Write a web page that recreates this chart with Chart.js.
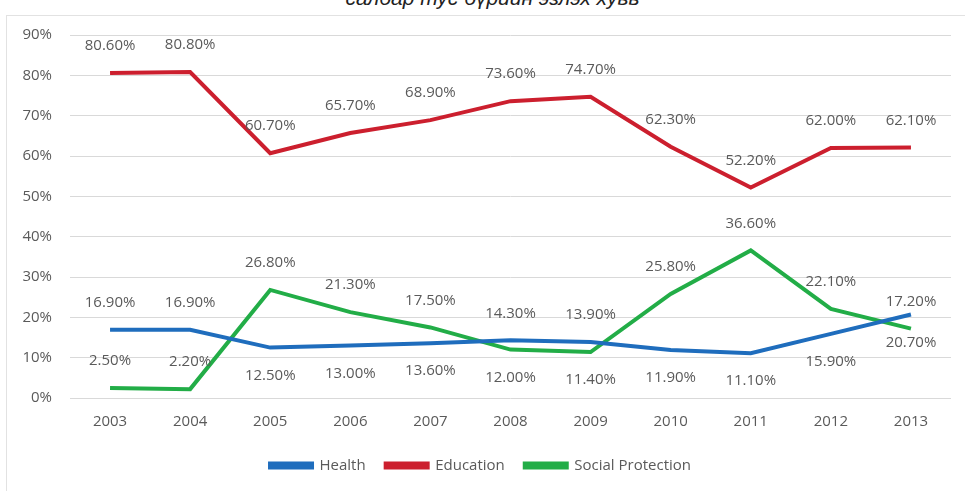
<!DOCTYPE html>
<html>
<head>
<meta charset="utf-8">
<script src="https://cdn.jsdelivr.net/npm/chart.js@4.4.0/dist/chart.umd.min.js"></script>
<style>
  html, body { margin: 0; padding: 0; background: #fff; }
  #wrap { position: relative; width: 965px; height: 491px; overflow: hidden; }
  #title {
    position: absolute; top: -14px; left: 0; width: 985px; text-align: center;
    font: italic 21px "Liberation Sans", Arial, sans-serif; color: #222;
  }
  #frame {
    position: absolute; left: 6px; top: 15px; width: 960px; height: 480px;
    border: 1px solid #e2e2e2; box-sizing: border-box;
  }
  #chart { position: absolute; left: 0; top: 0; }
</style>
</head>
<body>
<div id="wrap">
  <div id="title">салбар тус бүрийн эзлэх хувь</div>
  <div id="frame"></div>
  <canvas id="chart" width="965" height="491"></canvas>
</div>
<script>
const years = ["2003", "2004", "2005", "2006", "2007", "2008", "2009", "2010", "2011", "2012", "2013"];
const health = [16.9, 16.9, 12.5, 13.0, 13.6, 14.3, 13.9, 11.9, 11.1, 15.9, 20.7];
const education = [80.6, 80.8, 60.7, 65.7, 68.9, 73.6, 74.7, 62.3, 52.2, 62.0, 62.1];
const socialProtection = [2.5, 2.2, 26.8, 21.3, 17.5, 12.0, 11.4, 25.8, 36.6, 22.1, 17.2];
const yTicks = [0, 10, 20, 30, 40, 50, 60, 70, 80, 90];

const fontFamily = '"Open Sans", "Liberation Sans", sans-serif';
const textGrey = "#5a5a5a";

// draws the value labels above / below each point
const valueLabels = {
  id: "valueLabels",
  afterDatasetsDraw(chart) {
    const ctx = chart.ctx;
    ctx.save();
    ctx.font = "15px " + fontFamily;
    ctx.fillStyle = textGrey;
    ctx.textAlign = "center";
    ctx.textBaseline = "middle";
    chart.data.datasets.forEach((ds, i) => {
      const meta = chart.getDatasetMeta(i);
      meta.data.forEach((pt, j) => {
        const dy = ds.labelPos[j] === "a" ? -27 : 28;
        ctx.fillText(ds.data[j].toFixed(2) + "%", pt.x, pt.y + dy);
      });
    });
    ctx.restore();
  }
};

new Chart(document.getElementById("chart"), {
  type: "line",
  data: {
    labels: years,
    datasets: [
      {
        label: "Health",
        data: health,
        borderColor: "#1f6dbd",
        backgroundColor: "#1f6dbd",
        labelPos: ["a", "a", "b", "b", "b", "a", "a", "b", "b", "b", "b"]
      },
      {
        label: "Education",
        data: education,
        borderColor: "#cc1f2e",
        backgroundColor: "#cc1f2e",
        labelPos: ["a", "a", "a", "a", "a", "a", "a", "a", "a", "a", "a"]
      },
      {
        label: "Social Protection",
        data: socialProtection,
        borderColor: "#22ad47",
        backgroundColor: "#22ad47",
        labelPos: ["a", "a", "a", "a", "a", "b", "b", "a", "a", "a", "a"]
      }
    ]
  },
  options: {
    responsive: false,
    animation: false,
    elements: {
      line: { borderWidth: 4, tension: 0 },
      point: { radius: 0, hoverRadius: 0 }
    },
    layout: { padding: { left: 10, right: 14, top: 35, bottom: 8 } },
    plugins: {
      tooltip: { enabled: false },
      legend: {
        position: "bottom",
        labels: {
          boxWidth: 42,
          boxHeight: 4,
          padding: 20,
          color: textGrey,
          font: { family: fontFamily, size: 15 }
        }
      }
    },
    scales: {
      x: {
        offset: true,
        grid: { display: false, drawTicks: false },
        border: { display: false },
        ticks: {
          color: textGrey,
          padding: 15,
          font: { family: fontFamily, size: 15 }
        },
        afterFit: s => { s.height = 40; }
      },
      y: {
        min: 0,
        max: 90,
        afterBuildTicks: s => { s.ticks = yTicks.map(v => ({ value: v })); },
        grid: { color: "#d9d9d9", lineWidth: 1, drawTicks: false },
        border: { display: false },
        ticks: {
          color: textGrey,
          padding: 18,
          callback: v => v + "%",
          font: { family: fontFamily, size: 15 }
        },
        afterFit: s => { s.width = 60; }
      }
    }
  },
  plugins: [valueLabels]
});
</script>
</body>
</html>
